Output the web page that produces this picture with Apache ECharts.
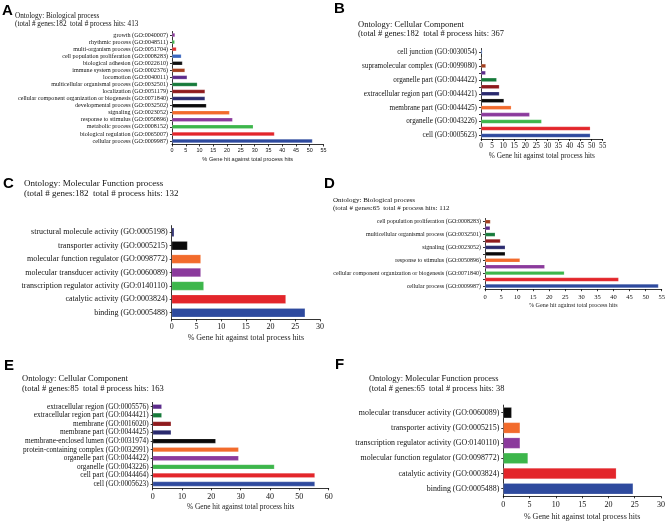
<!DOCTYPE html>
<html><head><meta charset="utf-8">
<script src="https://cdn.jsdelivr.net/npm/echarts@6/dist/echarts.min.js"></script>
<style>html,body{margin:0;padding:0;background:#fff}#c{width:668px;height:523px}</style>
</head><body><div id="c"></div>
<script>
// Panel A: Biological process (182 genes)
const A_categories = ["growth (GO:0040007)","rhythmic process (GO:0048511)","multi-organism process (GO:0051704)","cell population proliferation (GO:0008283)","biological adhesion (GO:0022610)","immune system process (GO:0002376)","locomotion (GO:0040011)","multicellular organismal process (GO:0032501)","localization (GO:0051179)","cellular component organization or biogenesis (GO:0071840)","developmental process (GO:0032502)","signaling (GO:0023052)","response to stimulus (GO:0050896)","metabolic process (GO:0008152)","biological regulation (GO:0065007)","cellular process (GO:0009987)"];
const A_values = [1.1,1.0,1.6,3.4,3.8,4.7,5.5,9.2,12.0,12.0,12.5,20.9,22.0,29.5,37.2,51.0];
// Panel B: Cellular Component (182 genes)
const B_categories = ["cell junction (GO:0030054)","synapse (GO:0045202)","supramolecular complex (GO:0099080)","membrane-enclosed lumen (GO:0031974)","organelle part (GO:0044422)","extracellular region (GO:0005576)","extracellular region part (GO:0044421)","membrane (GO:0016020)","membrane part (GO:0044425)","protein-containing complex (GO:0032991)","organelle (GO:0043226)","cell part (GO:0044464)","cell (GO:0005623)"];
const B_values = [0.6,0.4,2.2,2.1,7.1,8.3,8.3,10.4,13.7,22.0,27.4,49.4,49.4];
// Panel C: Molecular Function (182 genes)
const C_categories = ["structural molecule activity (GO:0005198)","transporter activity (GO:0005215)","molecular function regulator (GO:0098772)","molecular transducer activity (GO:0060089)","transcription regulator activity (GO:0140110)","catalytic activity (GO:0003824)","binding (GO:0005488)"];
const C_values = [0.5,3.2,5.9,5.9,6.5,23.1,27.0];
// Panel D: Biological process (65 genes)
const D_categories = ["cell population proliferation (GO:0008283)","locomotion (GO:0040011)","multicellular organismal process (GO:0032501)","localization (GO:0051179)","signaling (GO:0023052)","developmental process (GO:0032502)","response to stimulus (GO:0050896)","metabolic process (GO:0008152)","cellular component organization or biogenesis (GO:0071840)","biological regulation (GO:0065007)","cellular process (GO:0009987)"];
const D_values = [1.7,1.6,3.2,4.8,6.3,6.3,10.9,18.6,24.7,41.6,54.0];
// Panel E: Cellular Component (85 genes)
const E_categories = ["extracellular region (GO:0005576)","extracellular region part (GO:0044421)","membrane (GO:0016020)","membrane part (GO:0044425)","membrane-enclosed lumen (GO:0031974)","protein-containing complex (GO:0032991)","organelle part (GO:0044422)","organelle (GO:0043226)","cell part (GO:0044464)","cell (GO:0005623)"];
const E_values = [3.1,3.1,6.3,6.3,21.5,29.3,29.3,41.5,55.3,55.3];
// Panel F: Molecular Function (65 genes)
const F_categories = ["molecular transducer activity (GO:0060089)","transporter activity (GO:0005215)","transcription regulator activity (GO:0140110)","molecular function regulator (GO:0098772)","catalytic activity (GO:0003824)","binding (GO:0005488)"];
const F_values = [1.6,3.2,3.2,4.7,21.5,24.7];

const titles = [
  "Ontology: Biological process\n(total # genes:182  total # process hits: 413",
  "Ontology: Cellular Component\n(total # genes:182  total # process hits: 367",
  "Ontology: Molecular Function process\n(total # genes:182  total # process hits: 132",
  "Ontology: Biological process\n(total # genes:65  total # process hits: 112",
  "Ontology: Cellular Component\n(total # genes:85  total # process hits: 163",
  "Ontology: Molecular Function process\n(total # genes:65  total # process hits: 38"
];
const letters = ["A","B","C","D","E","F"];
const axisName = "% Gene hit against total process hits";

const palette = ['#2e4a9e','#e3262b','#3db64b','#8b3a9c','#f26b2c','#0a0a0a','#2a2a6e','#8f1b1e','#167a3a','#5c2c8c','#a33f1f','#111111','#3c67bf','#e0302e','#3db64b','#8b3a9c'];

const SERIF = 'Liberation Serif';
const SANS = 'Liberation Sans';

const panels = [
  {cats:A_categories, vals:A_values, grid:{left:172,top:31.5,width:151.5,height:113}, max:55, interval:5,
   catFont:6.1, tickFont:5.4, tickFamily:SANS, nameFont:5.6, nameFamily:SANS, tickMargin:3.5, nameGap:12, barW:'56%', labInt:0,
   title:{left:15,top:11.5,fs:7.2,lh:8.6}, letter:{left:2,top:3}},
  {cats:B_categories, vals:B_values, grid:{left:481,top:48.5,width:121.7,height:90.5}, max:55, interval:5,
   catFont:7.2, tickFont:7.2, tickFamily:SERIF, nameFont:7.3, nameFamily:SERIF, tickMargin:3.2, nameGap:13.3, barW:'58%', labInt:1,
   title:{left:358,top:20.3,fs:8.5,lh:9.2}, letter:{left:334,top:1}},
  {cats:C_categories, vals:C_values, grid:{left:171.7,top:225.6,width:148.3,height:93.8}, max:30, interval:5,
   catFont:8, tickFont:8, tickFamily:SERIF, nameFont:8, nameFamily:SERIF, tickMargin:3.3, nameGap:14.6, barW:'67%', labInt:0,
   title:{left:24,top:178,fs:9,lh:10.4}, letter:{left:3,top:176}},
  {cats:D_categories, vals:D_values, grid:{left:485,top:218.5,width:176.7,height:70.7}, max:55, interval:5,
   catFont:6.0, tickFont:6.5, tickFamily:SERIF, nameFont:6.1, nameFamily:SERIF, tickMargin:4.3, nameGap:13.4, barW:'62%', labInt:1,
   title:{left:333,top:196.6,fs:7,lh:7.8}, letter:{left:324,top:176}},
  {cats:E_categories, vals:E_values, grid:{left:152.7,top:402.4,width:176,height:85.9}, max:60, interval:10,
   catFont:7.3, tickFont:8, tickFamily:SERIF, nameFont:7.4, nameFamily:SERIF, tickMargin:4.4, nameGap:15, barW:'56%', labInt:0,
   title:{left:22,top:373,fs:8.5,lh:10.7}, letter:{left:4,top:358}},
  {cats:F_categories, vals:F_values, grid:{left:503.3,top:405.1,width:159.4,height:91.2}, max:30, interval:5,
   catFont:7.9, tickFont:8, tickFamily:SERIF, nameFont:8, nameFamily:SERIF, tickMargin:4.7, nameGap:16.4, barW:'72%', labInt:0,
   title:{left:369,top:373,fs:8.4,lh:10.7}, letter:{left:335,top:357}}
];

const option = {animation:false, backgroundColor:'#fff', title:[], grid:[], xAxis:[], yAxis:[], series:[]};
panels.forEach((p,i)=>{
  option.title.push({text:letters[i], left:p.letter.left, top:p.letter.top, padding:0,
    textStyle:{fontFamily:SANS, fontWeight:'bold', fontSize:15, color:'#000', lineHeight:15}});
  option.title.push({text:titles[i], left:p.title.left, top:p.title.top, padding:0,
    textStyle:{fontFamily:SERIF, fontWeight:'normal', fontSize:p.title.fs, lineHeight:p.title.lh, color:'#111'}});
  option.grid.push(Object.assign({containLabel:false}, p.grid));
  option.xAxis.push({type:'value', gridIndex:i, min:0, max:p.max, interval:p.interval,
    name:axisName, nameLocation:'middle', nameGap:p.nameGap,
    nameTextStyle:{fontFamily:p.nameFamily, fontSize:p.nameFont, color:'#222'},
    axisLine:{show:true, lineStyle:{color:'#000', width:0.8}},
    axisTick:{show:true, length:2, lineStyle:{color:'#000', width:0.8}},
    axisLabel:{fontFamily:p.tickFamily, fontSize:p.tickFont, color:'#111', margin:p.tickMargin},
    splitLine:{show:false}});
  const n = p.cats.length;
  option.yAxis.push({type:'category', gridIndex:i, data:p.cats, inverse:true,
    axisLine:{show:true, lineStyle:{color:'#000', width:0.8}},
    axisTick:{show:true, length:2, alignWithLabel:true, interval:0, lineStyle:{color:'#000', width:0.8}},
    axisLabel:{interval:p.labInt, fontFamily:SERIF, fontSize:p.catFont, color:'#111', margin:4}});
  option.series.push({type:'bar', xAxisIndex:i, yAxisIndex:i, data:p.vals, barWidth:p.barW,
    itemStyle:{color:(params)=>palette[n-1-params.dataIndex], borderColor:'rgba(255,255,255,0.35)', borderWidth:0.5}});
});
const chart = echarts.init(document.getElementById('c'), null, {renderer:'canvas'});
chart.setOption(option);
</script></body></html>
